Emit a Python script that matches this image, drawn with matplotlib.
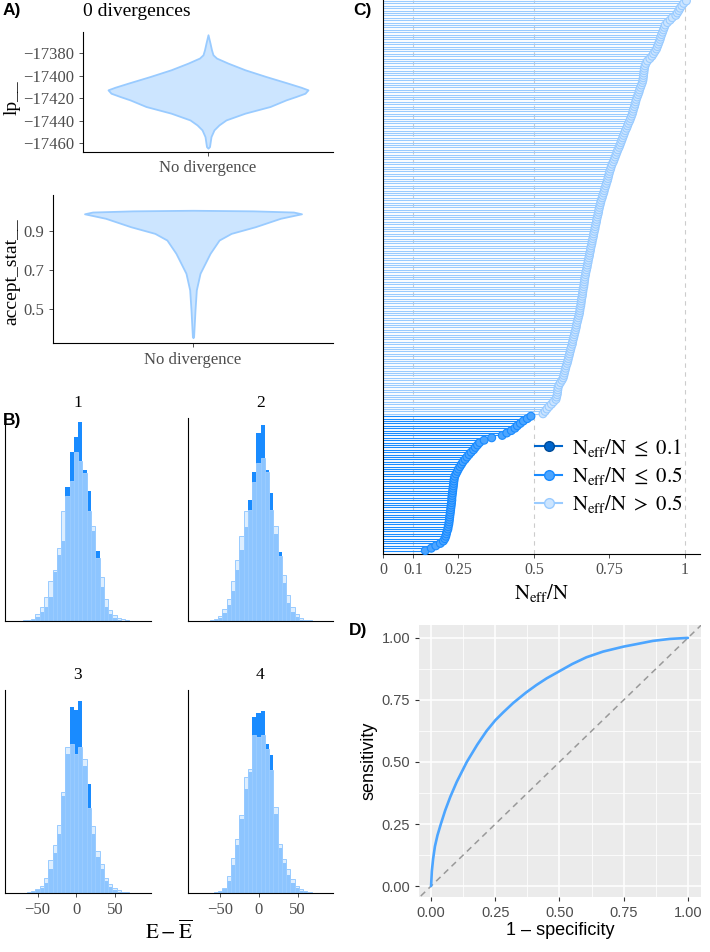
import numpy as np
import matplotlib
matplotlib.use("Agg")
import matplotlib.pyplot as plt
from matplotlib.lines import Line2D

W, H = 710, 952
SERIF = "Liberation Serif"
SANS = "Liberation Sans"
plt.rcParams["mathtext.fontset"] = "stix"
plt.rcParams["font.family"] = SERIF

# brightblue colour scheme
LIGHT, LIGHT_HI = "#cce5ff", "#99cbff"
MID, MID_HI = "#4ca5ff", "#198bff"
DARK, DARK_HI = "#0065cc", "#004c99"
GREY30 = "#4d4d4d"

# ---- A) divergence violins (density profile read off the picture)
lp_vals = [-17363.7, -17371.1, -17377.1, -17381.5, -17384.4, -17388.9, -17394.8,
           -17400.8, -17406.7, -17410.3, -17412.6, -17415.6, -17418.5, -17421.5,
           -17427.4, -17433.3, -17439.3, -17443.7, -17448.1, -17454.1, -17463.0,
           -17464.4]
lp_dens = [0, 2, 3.5, 5, 8.5, 20, 37, 58, 80, 93, 100, 97, 88, 78, 62, 37, 18,
           11, 6, 3, 1.5, 0]

acc_vals = [1.006, 1.003, 0.997, 0.988, 0.965, 0.922, 0.888, 0.854, 0.786, 0.735,
            0.684, 0.599, 0.497, 0.361, 0.355]
acc_dens = [0, 60, 100, 108, 87, 62, 38, 26, 17, 12, 7, 3.3, 2, 0.6, 0]

# ---- B) energy histograms per chain, bins of width 5.5 starting at -69.3
bin_width = 5.5
bin_start = -69.3
energy_E = {
    1: [0.7, 1.3, 2, 7, 14, 24, 40, 52, 74, 111, 126, 141, 171, 162, 149, 111, 96,
        64, 44, 22, 11, 6, 3, 1.7, 0.7, 0.3, 0],
    2: [0.5, 1, 2, 5, 12, 22, 40, 62, 86, 111, 112, 140, 160, 165, 150, 112, 96,
        66, 46, 26, 14, 7, 3, 1.5, 0.7, 0.3, 0],
    3: [0.5, 1, 2, 4, 7, 15, 33, 48, 69, 102, 147, 150, 140, 147, 135, 86, 68,
        42, 29, 15, 9, 5, 3, 1.5, 0.7, 0.3, 0],
    4: [0.3, 0.5, 1, 2, 5, 17, 35, 55, 79, 117, 125, 160, 158, 160, 145, 124, 87,
        49, 34, 24, 14, 7, 4, 2, 1, 0.5, 0.2],
}
energy_dE = {
    1: [0, 0.5, 1, 4, 9, 14, 24, 49, 67, 81, 135, 171, 186, 201, 152, 131, 91,
        71, 34, 14, 7, 3, 1, 0.5, 0.2, 0, 0],
    2: [0, 0.3, 1, 3, 8, 16, 30, 52, 72, 95, 122, 150, 190, 198, 152, 129, 88,
        70, 38, 18, 9, 4, 1.5, 0.5, 0.2, 0, 0],
    3: [0.2, 0.5, 1, 3, 5, 10, 24, 40, 60, 98, 140, 188, 185, 194, 128, 110, 60,
        36, 24, 12, 6, 3, 1.5, 0.5, 0.2, 0, 0],
    4: [0.1, 0.3, 0.5, 1.5, 4, 12, 28, 48, 75, 105, 122, 178, 182, 184, 150, 139,
        80, 45, 30, 18, 10, 5, 2, 1, 0.5, 0.2, 0],
}

# ---- C) sorted effective sample size ratios
neff_ratio = [
    0.14, 0.16, 0.175, 0.19, 0.2, 0.205, 0.208, 0.21, 0.212, 0.215,
    0.216, 0.218, 0.219, 0.22, 0.221, 0.222, 0.223, 0.224, 0.225, 0.226,
    0.227, 0.228, 0.228, 0.229, 0.23, 0.231, 0.232, 0.233, 0.234, 0.235,
    0.236, 0.238, 0.242, 0.246, 0.25, 0.255, 0.26, 0.265, 0.272, 0.278,
    0.285, 0.292, 0.3, 0.306, 0.313, 0.32, 0.335, 0.36, 0.395, 0.41,
    0.425, 0.437, 0.445, 0.455, 0.465, 0.478, 0.49, 0.53, 0.537, 0.543,
    0.55, 0.558, 0.565, 0.573, 0.575, 0.577, 0.578, 0.579, 0.58, 0.583,
    0.588, 0.593, 0.597, 0.599, 0.601, 0.603, 0.605, 0.607, 0.61, 0.612,
    0.614, 0.616, 0.618, 0.62, 0.622, 0.624, 0.627, 0.628, 0.63, 0.632,
    0.634, 0.636, 0.638, 0.64, 0.641, 0.643, 0.645, 0.647, 0.649, 0.651,
    0.652, 0.653, 0.655, 0.656, 0.657, 0.658, 0.66, 0.661, 0.662, 0.663,
    0.665, 0.666, 0.667, 0.668, 0.669, 0.671, 0.672, 0.674, 0.676, 0.677,
    0.679, 0.68, 0.682, 0.684, 0.685, 0.687, 0.688, 0.69, 0.692, 0.693,
    0.695, 0.697, 0.698, 0.7, 0.702, 0.703, 0.705, 0.707, 0.708, 0.71,
    0.712, 0.714, 0.715, 0.717, 0.719, 0.721, 0.723, 0.726, 0.728, 0.731,
    0.733, 0.735, 0.738, 0.74, 0.743, 0.745, 0.747, 0.749, 0.751, 0.754,
    0.756, 0.759, 0.763, 0.766, 0.769, 0.772, 0.775, 0.778, 0.782, 0.785,
    0.788, 0.791, 0.794, 0.797, 0.8, 0.803, 0.807, 0.81, 0.813, 0.817,
    0.82, 0.823, 0.826, 0.828, 0.83, 0.833, 0.835, 0.837, 0.839, 0.842,
    0.845, 0.848, 0.85, 0.853, 0.856, 0.859, 0.861, 0.862, 0.863, 0.864,
    0.865, 0.866, 0.868, 0.871, 0.876, 0.884, 0.891, 0.896, 0.901, 0.906,
    0.909, 0.912, 0.915, 0.918, 0.92, 0.923, 0.926, 0.929, 0.932, 0.935,
    0.942, 0.951, 0.958, 0.97, 0.975, 0.98, 0.984, 0.99, 0.996, 1.005,
]
neff_ticks = [0, 0.1, 0.25, 0.5, 0.75, 1]
neff_ticklabels = ["0", "0.1", "0.25", "0.5", "0.75", "1"]

# ---- D) ROC curve
fpr = [0, 0.003, 0.008, 0.015, 0.025, 0.038, 0.055, 0.075, 0.1, 0.139, 0.18,
       0.216, 0.25, 0.281, 0.32, 0.37, 0.41, 0.45, 0.5, 0.55, 0.605, 0.67, 0.75,
       0.8, 0.864, 0.93, 1.0]
tpr = [0, 0.06, 0.11, 0.16, 0.205, 0.25, 0.305, 0.36, 0.42, 0.5, 0.57, 0.625,
       0.668, 0.7, 0.738, 0.78, 0.81, 0.837, 0.866, 0.895, 0.922, 0.945, 0.965,
       0.975, 0.988, 0.996, 1.0]
roc_ticks = [0, 0.25, 0.5, 0.75, 1.0]


fig = plt.figure(figsize=(W / 100, H / 100), dpi=100)


def px_axes(x0, y0, x1, y1):
    return fig.add_axes([x0 / W, 1 - y1 / H, (x1 - x0) / W, (y1 - y0) / H])


def fig_text(x, y, s, **kw):
    fig.text(x / W, 1 - y / H, s, **kw)


def classic(ax):
    for side in ["top", "right"]:
        ax.spines[side].set_visible(False)
    for side in ["left", "bottom"]:
        ax.spines[side].set_linewidth(0.8)
        ax.spines[side].set_color("black")
    ax.tick_params(length=2.75, width=0.6, color="#333333", labelcolor=GREY30,
                   labelsize=12)


# A) violins
axA1 = px_axes(83, 31.7, 333, 151.7)
hw = np.array(lp_dens) / 100 * 0.48
axA1.fill_betweenx(lp_vals, 1 - hw, 1 + hw, facecolor=LIGHT, edgecolor=LIGHT_HI, lw=1.3)
axA1.set_xlim(0.4, 1.6)
axA1.set_ylim(-17467.5, -17361)
axA1.set_yticks([-17460, -17440, -17420, -17400, -17380])
axA1.set_xticks([1])
axA1.set_xticklabels(["No divergence"])
classic(axA1)

axA2 = px_axes(53, 195, 333, 343.3)
hw = np.array(acc_dens) / 108 * 0.465
axA2.fill_betweenx(acc_vals, 1 - hw, 1 + hw, facecolor=LIGHT, edgecolor=LIGHT_HI, lw=1.3)
axA2.set_xlim(0.4, 1.6)
axA2.set_ylim(0.3265, 1.084)
axA2.set_yticks([0.5, 0.7, 0.9])
axA2.set_xticks([1])
axA2.set_xticklabels(["No divergence"])
classic(axA2)

fig_text(83, 12, "0 divergences", fontsize=14, ha="left", va="center")
fig_text(12, 98, "lp__", fontsize=14, rotation=90, ha="center", va="center")
fig_text(12, 272, "accept_stat__", fontsize=14, rotation=90, ha="center", va="center")

# B) energy histograms
n_bins = len(energy_E[1])
edges = bin_start + bin_width * np.arange(n_bins + 1)
centers = (edges[:-1] + edges[1:]) / 2
boxes = {1: (5, 418, 151, 621), 2: (188, 418, 333, 621),
         3: (5, 690, 151, 893), 4: (188, 690, 333, 893)}
for chain, box in boxes.items():
    ax = px_axes(*box)
    ax.bar(centers, energy_dE[chain], width=bin_width, color=MID_HI, lw=0)
    ax.bar(centers, energy_E[chain], width=bin_width,
           facecolor=(204 / 255, 229 / 255, 1, 0.65), edgecolor=LIGHT_HI, lw=0.7)
    ax.set_xlim(-92, 96)
    ax.set_ylim(0, 205)
    classic(ax)
    ax.set_yticks([])
    if chain in (1, 2):
        ax.set_xticks([])
    else:
        ax.set_xticks([-50, 0, 50])
    cx = (box[0] + box[2]) / 2
    fig_text(cx, box[1] - 15, str(chain), fontsize=12.5, ha="center", va="center")
fig_text(169, 932, r"$\mathrm{E-\overline{E}}$", fontsize=15, ha="center", va="center")

# C) neff ratios
axC = px_axes(383, 0, 700, 553.5)
yy = np.arange(len(neff_ratio))
vals = np.array(neff_ratio)
fills = np.where(vals <= 0.1, DARK, np.where(vals <= 0.5, MID, LIGHT))
edgec = np.where(vals <= 0.1, DARK_HI, np.where(vals <= 0.5, MID_HI, LIGHT_HI))
for x in [0.1, 0.5, 1.0]:
    axC.axvline(x, color="#cccccc", ls=(0, (4, 4)), lw=0.8, zorder=0)
axC.hlines(yy, 0, vals, colors=edgec, lw=0.8, zorder=1)
axC.scatter(vals, yy, s=32, c=fills, edgecolors=edgec, linewidths=0.8, zorder=3,
            clip_on=False)
axC.set_xlim(0, 1.05)
axC.set_ylim(-1.2, len(neff_ratio) - 0.6)
axC.set_xticks(neff_ticks)
axC.set_xticklabels(neff_ticklabels)
axC.set_yticks([])
classic(axC)
axC.tick_params(axis="x", labelsize=11.5)
axC.set_xlabel(r"$\mathrm{N_{eff}/N}$", fontsize=15, labelpad=3)

handles = [
    Line2D([], [], color=DARK, marker="o", ms=7, mfc=DARK, mec=DARK_HI, lw=1.5),
    Line2D([], [], color=MID_HI, marker="o", ms=7, mfc=MID, mec=MID_HI, lw=1.5),
    Line2D([], [], color=LIGHT_HI, marker="o", ms=7, mfc=LIGHT, mec=LIGHT_HI, lw=1.5),
]
labels = [r"$\mathrm{N_{eff}/N\ \leq\ 0.1}$", r"$\mathrm{N_{eff}/N\ \leq\ 0.5}$",
          r"$\mathrm{N_{eff}/N\ >\ 0.5}$"]
axC.legend(handles, labels, loc="center left", bbox_to_anchor=(535 / W, 1 - 476 / H),
           bbox_transform=fig.transFigure, frameon=False, fontsize=15,
           handlelength=1.3, handletextpad=0.5, labelspacing=0.3, borderpad=0,
           borderaxespad=0)

# D) ROC
axD = px_axes(419, 625, 701, 897)
axD.set_facecolor("#ebebeb")
for s in axD.spines.values():
    s.set_visible(False)
axD.set_xlim(-0.047, 1.051)
axD.set_ylim(-0.044, 1.052)
axD.set_xticks(roc_ticks)
axD.set_yticks(roc_ticks)
axD.set_xticks([0.125, 0.375, 0.625, 0.875], minor=True)
axD.set_yticks([0.125, 0.375, 0.625, 0.875], minor=True)
axD.set_xticklabels(["%.2f" % t for t in roc_ticks])
axD.set_yticklabels(["%.2f" % t for t in roc_ticks])
axD.grid(which="major", color="white", lw=1.1)
axD.grid(which="minor", color="white", lw=0.55)
axD.set_axisbelow(True)
axD.tick_params(which="major", length=2.75, width=0.8, color="#333333",
                labelcolor=GREY30, labelsize=10.5)
axD.tick_params(which="minor", length=0)
for lab in axD.get_xticklabels() + axD.get_yticklabels():
    lab.set_family(SANS)
axD.plot([-0.1, 1.1], [-0.1, 1.1], color="#999999", ls=(0, (4, 3)), lw=1.1)
axD.plot(fpr, tpr, color=MID, lw=1.9, solid_capstyle="round")
axD.set_xlabel("1 – specificity", family=SANS, fontsize=13, labelpad=2)
axD.set_ylabel("sensitivity", family=SANS, fontsize=13, labelpad=3)

# panel letters
for s, x, y in [("A)", 12, 11), ("B)", 12, 421), ("C)", 362, 11), ("D)", 358, 630)]:
    fig_text(x, y, s, family=SANS, weight="bold", fontsize=12.5, ha="center", va="center")

fig.savefig("out.png", dpi=100)
